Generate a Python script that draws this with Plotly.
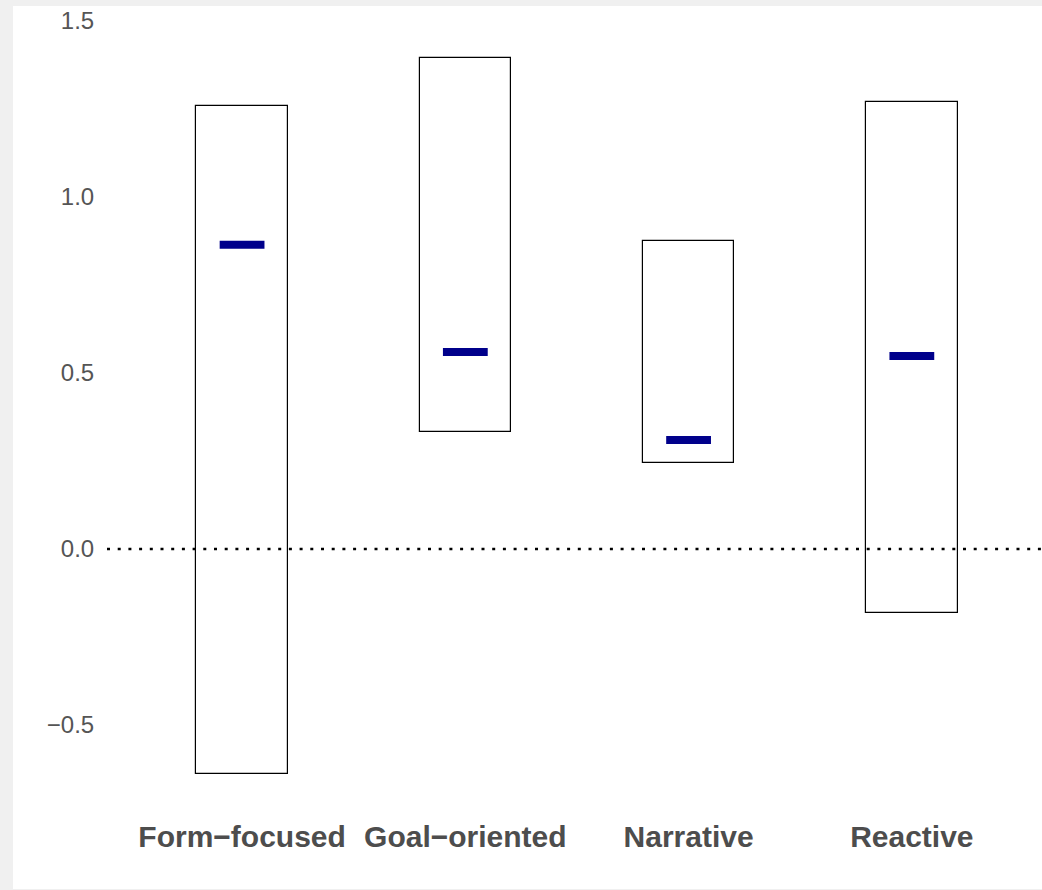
import plotly.graph_objects as go

categories = ["Form\u2212focused", "Goal\u2212oriented", "Narrative", "Reactive"]
upper = [1.259, 1.395, 0.875, 1.270]
lower = [-0.639, 0.332, 0.244, -0.182]
means = [0.864, 0.560, 0.310, 0.548]
ytick_vals = [-0.5, 0.0, 0.5, 1.0, 1.5]
ytick_text = ["\u22120.5", "0.0", "0.5", "1.0", "1.5"]

W, H = 1042, 890
L, R, T, B = 107, 0, 6, 90
pw, ph = W - L - R, H - T - B

xs = list(range(len(categories)))

fig = go.Figure()
fig.add_trace(go.Bar(
    x=xs, y=[u - l for u, l in zip(upper, lower)], base=lower, width=0.41,
    marker=dict(color="rgba(0,0,0,0)", line=dict(color="black", width=1.2)),
    hoverinfo="skip", showlegend=False,
))
fig.add_trace(go.Scatter(
    x=xs, y=means, mode="markers",
    marker=dict(symbol="line-ew", size=32, line=dict(color="#00008B", width=8)),
    showlegend=False,
))

# white figure area over grey page background
fig.add_shape(type="rect", xref="paper", yref="paper", layer="below",
              x0=(13 - L) / pw, x1=1.0, y0=-(H - 1 - (T + ph)) / ph, y1=1.0,
              fillcolor="white", line=dict(width=0))
fig.add_shape(type="line", xref="paper", yref="y", x0=0, x1=1, y0=0, y1=0,
              line=dict(color="black", width=2.5, dash="3px,7.7px"))

fig.update_layout(
    width=W, height=H,
    margin=dict(l=L, r=R, t=T, b=B, pad=0),
    paper_bgcolor="#f0f0f0", plot_bgcolor="white",
    font=dict(family="Arial, Liberation Sans, sans-serif", color="#4d4d4d"),
    xaxis=dict(range=[-0.605, 3.583], tickvals=xs, ticktext=categories,
               showgrid=False, zeroline=False, showline=False,
               ticks="outside", ticklen=10, tickcolor="rgba(0,0,0,0)",
               tickfont=dict(size=30, weight="bold", color="#4d4d4d")),
    yaxis=dict(range=[(549 - 800) / 352, (549 - 6) / 352], tickvals=ytick_vals,
               ticktext=ytick_text, showgrid=False, zeroline=False, showline=False,
               ticks="outside", ticklen=7, tickcolor="rgba(0,0,0,0)",
               tickfont=dict(size=24, color="#555555")),
    bargap=0,
)

fig.write_html("out.html", config={"displayModeBar": False},
               post_script="document.body.style.margin='0';")
